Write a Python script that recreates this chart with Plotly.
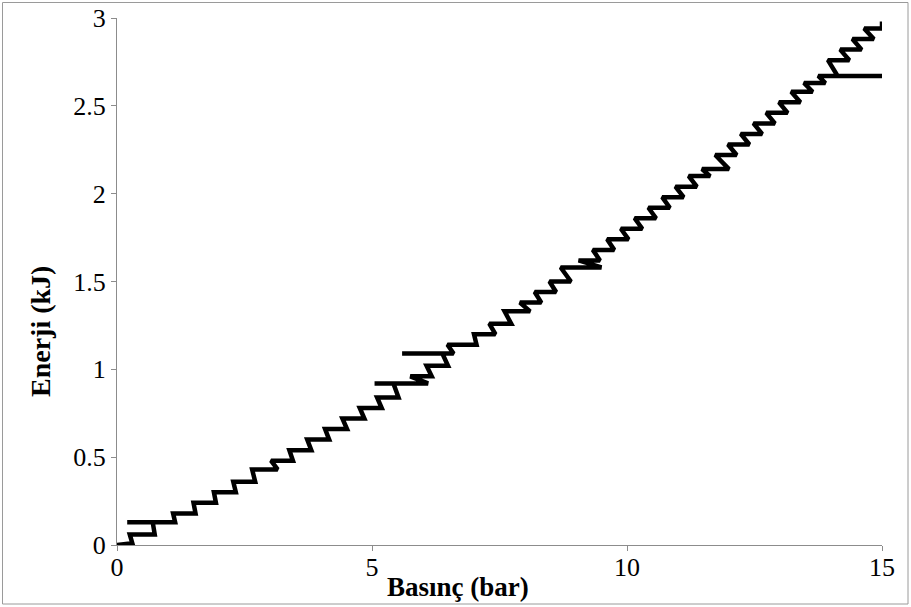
import plotly.graph_objects as go

pressure_bar = [
    0.00, 0.30,
    0.25, 0.74,
    0.70, 0.20, 1.14,
    1.10, 1.54,
    1.50, 1.94,
    1.90, 2.33,
    2.28, 2.71,
    2.65, 3.15,
    3.02, 3.45,
    3.38, 3.81,
    3.73, 4.16,
    4.08, 4.51,
    4.42, 4.85,
    4.76, 5.19,
    5.10, 5.52,
    5.42, 5.05, 6.10,
    5.75, 6.17,
    6.07, 6.49,
    6.38, 5.59, 6.60,
    6.48, 7.05,
    7.00, 7.42,
    7.30, 7.73,
    7.60, 8.10,
    7.90, 8.32,
    8.19, 8.61,
    8.48, 8.90,
    8.70, 9.50,
    9.05, 9.47,
    9.33, 9.75,
    9.61, 10.03,
    9.88, 10.30,
    10.15, 10.57,
    10.42, 10.84,
    10.69, 11.11,
    10.95, 11.37,
    11.21, 11.63,
    11.47, 12.00,
    11.73, 12.15,
    11.98, 12.40,
    12.23, 12.65,
    12.48, 12.90,
    12.73, 13.15,
    12.98, 13.40,
    13.22, 13.64,
    13.47, 13.89,
    13.75, 15.00, 14.13,
    13.94, 14.36,
    14.18, 14.60,
    14.42, 14.84,
    14.65, 15.00, 15.00,
]
energy_kj = [
    0.00, 0.01,
    0.06, 0.06,
    0.13, 0.13, 0.13,
    0.18, 0.18,
    0.24, 0.24,
    0.30, 0.30,
    0.36, 0.36,
    0.43, 0.43,
    0.48, 0.48,
    0.54, 0.54,
    0.60, 0.60,
    0.66, 0.66,
    0.72, 0.72,
    0.78, 0.78,
    0.84, 0.84,
    0.92, 0.92, 0.92,
    0.96, 0.96,
    1.02, 1.02,
    1.09, 1.09, 1.09,
    1.14, 1.14,
    1.20, 1.20,
    1.26, 1.26,
    1.33, 1.33,
    1.38, 1.38,
    1.44, 1.44,
    1.50, 1.50,
    1.58, 1.58,
    1.62, 1.62,
    1.68, 1.68,
    1.74, 1.74,
    1.80, 1.80,
    1.86, 1.86,
    1.92, 1.92,
    1.98, 1.98,
    2.04, 2.04,
    2.10, 2.10,
    2.14, 2.14,
    2.22, 2.22,
    2.28, 2.28,
    2.34, 2.34,
    2.40, 2.40,
    2.46, 2.46,
    2.52, 2.52,
    2.58, 2.58,
    2.63, 2.63,
    2.67, 2.67, 2.67,
    2.76, 2.76,
    2.82, 2.82,
    2.88, 2.88,
    2.94, 2.94, 2.98,
]

x_ticks = [0, 5, 10, 15]
x_tick_labels = ["0", "5", "10", "15"]
y_ticks = [0, 0.5, 1, 1.5, 2, 2.5, 3]
y_tick_labels = ["0", "0.5", "1", "1.5", "2", "2.5", "3"]

x_title = "Basınç (bar)"
y_title = "Enerji (kJ)"

W, H = 911, 607
ML, MR, MT, MB = 117, 29, 18, 62
PW = W - ML - MR
PH = H - MT - MB

def px_to_paper_x(px):
    return (px - ML) / PW

def py_to_paper_y(py):
    return (H - MB - py) / PH

fig = go.Figure()
fig.add_trace(go.Scatter(
    x=pressure_bar, y=energy_kj, mode="lines",
    line=dict(color="black", width=4.5, shape="linear"),
    showlegend=False, hoverinfo="skip",
))

serif = "Liberation Serif, Times New Roman, serif"
axis_common = dict(
    showgrid=False, zeroline=False, showline=True, automargin=False,
    linecolor="#8c8c8c", linewidth=1,
    ticks="outside", ticklen=5, tickcolor="#8c8c8c", tickwidth=1,
    tickfont=dict(family=serif, size=26, color="black"),
)

fig.update_layout(
    width=W, height=H,
    margin=dict(l=ML, r=MR, t=MT, b=MB, autoexpand=False),
    paper_bgcolor="white", plot_bgcolor="white",
    xaxis=dict(range=[0, 15], tickvals=x_ticks, ticktext=x_tick_labels,
               ticklabelstandoff=-6, **axis_common),
    yaxis=dict(range=[0, 3], tickvals=y_ticks, ticktext=y_tick_labels, **axis_common),
    annotations=[
        dict(text="<b>" + x_title + "</b>", xref="paper", yref="paper",
             x=px_to_paper_x(458), y=py_to_paper_y(587), xanchor="center", yanchor="middle",
             showarrow=False, font=dict(family=serif, size=27, color="black")),
        dict(text="<b>" + y_title + "</b>", xref="paper", yref="paper",
             x=px_to_paper_x(40), y=py_to_paper_y(332), xanchor="center", yanchor="middle",
             textangle=-90, showarrow=False, font=dict(family=serif, size=28, color="black")),
    ],
    shapes=[
        dict(type="rect", xref="paper", yref="paper",
             x0=px_to_paper_x(2.5), x1=px_to_paper_x(908),
             y0=py_to_paper_y(604), y1=py_to_paper_y(2.5),
             line=dict(color="#9a9a9a", width=1), fillcolor="rgba(0,0,0,0)", layer="below"),
    ],
)

fig.write_html("out.html")
